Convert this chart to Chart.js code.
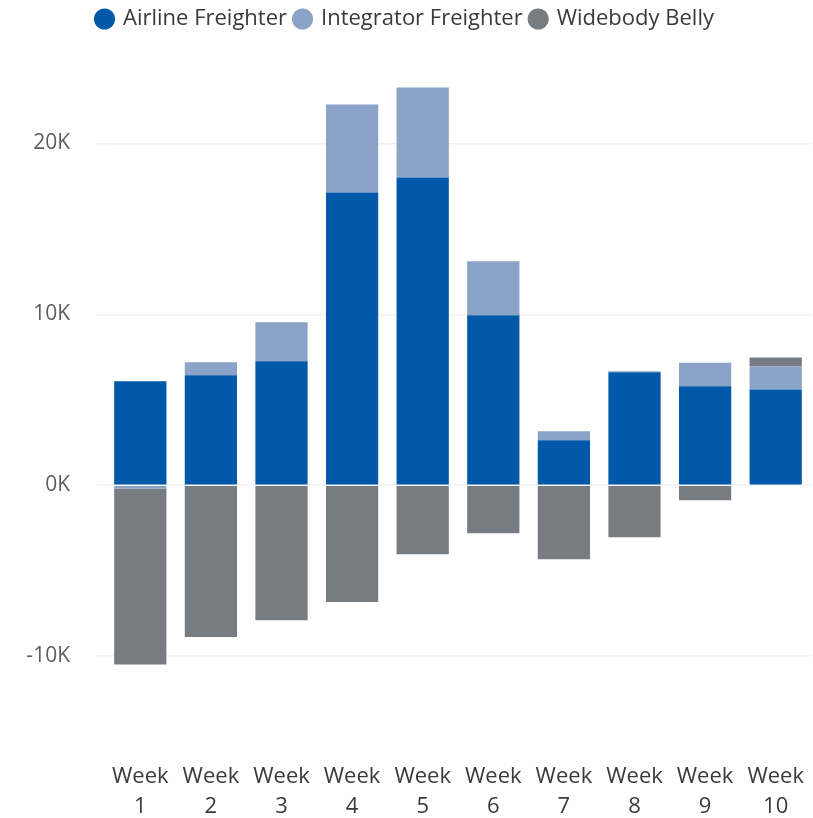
<!DOCTYPE html>
<html>
<head>
<meta charset="utf-8">
<script src="https://cdn.jsdelivr.net/npm/chart.js@4"></script>
<style>
  html, body { margin:0; padding:0; background:#fff; }
  #wrap { width:813px; height:818px; }
</style>
</head>
<body>
<div id="wrap"><canvas id="chart" width="813" height="818"></canvas></div>
<script>
const weeks = [["Week","1"],["Week","2"],["Week","3"],["Week","4"],["Week","5"],["Week","6"],["Week","7"],["Week","8"],["Week","9"],["Week","10"]];
const airline    = [6080, 6430, 7250, 17130, 18010, 9940, 2630, 6610, 5790, 5600];
const integrator = [-200, 760, 2280, 5150, 5260, 3160, 530, 50, 1380, 1360];
const widebody   = [-10300, -8890, -7900, -6840, -4040, -2810, -4330, -3040, -880, 510];
const yTicks = [-10000, 0, 10000, 20000];

const font = "'Open Sans', 'Noto Sans', sans-serif";

new Chart(document.getElementById("chart"), {
  type: "bar",
  data: {
    labels: weeks,
    datasets: [
      {label:"Airline Freighter", data: airline, backgroundColor:"#0059A8"},
      {label:"Integrator Freighter", data: integrator, backgroundColor:"#8BA3C7"},
      {label:"Widebody Belly", data: widebody, backgroundColor:"#777C82"},
    ]
  },
  options: {
    responsive:false,
    animation:false,
    layout:{ padding:{left:0, right:2, top:0, bottom:0} },
    datasets:{ bar:{ categoryPercentage:0.74, barPercentage:1 } },
    plugins:{
      legend:{
        position:"top",
        labels:{
          usePointStyle:true, pointStyle:"circle", boxWidth:15, boxHeight:15,
          padding:8, color:"#3b3a39",
          font:{family:font, size:22}
        }
      },
      tooltip:{ enabled:false }
    },
    scales:{
      x:{
        stacked:true,
        grid:{display:false},
        border:{display:false},
        afterFit:(ax)=>{ ax.height = 64; },
        ticks:{ color:"#3b3a39", font:{family:font, size:22, lineHeight:1.36}, maxRotation:0, autoSkip:false, padding:0 }
      },
      y:{
        stacked:true,
        min:-15730, max:26050,
        afterBuildTicks:(ax)=>{ ax.ticks = yTicks.map(v=>({value:v})); },
        afterFit:(ax)=>{ ax.width = 105; },
        grid:{ color:"#F2F2F2", lineWidth:1.5 },
        border:{display:false},
        ticks:{ color:"#605E5C", font:{family:font, size:21}, padding:27,
          callback:(v)=> (v/1000) + "K" }
      }
    }
  }
});
</script>
</body>
</html>
